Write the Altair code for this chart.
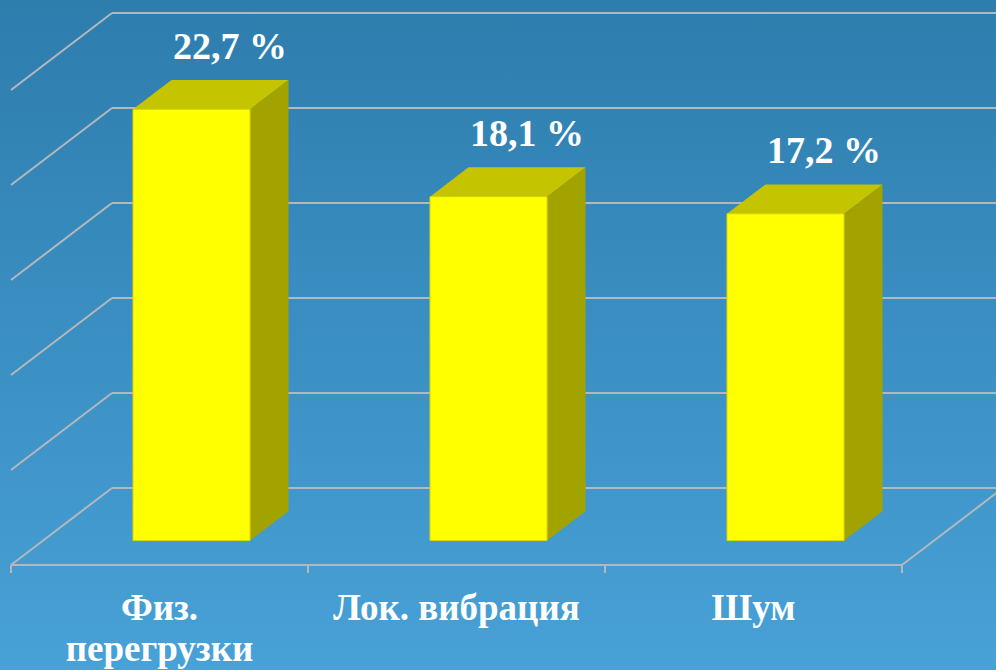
import altair as alt
import pandas as pd

# ---- data ----
categories = ["Физ.\nперегрузки", "Лок. вибрация", "Шум"]
values = [22.7, 18.1, 17.2]
grid_values = [0, 5, 10, 15, 20, 25]

# ---- projection (oblique 3D) ----
W, H = 996, 670
X0_PX, CAT_PX = 11, 297          # floor front-left pixel, px per category
Y0_PX, VAL_PX = 488, 19          # back-wall zero pixel, px per value unit
DEPTH_DX = 101 / CAT_PX          # full depth shift, in category units
DEPTH_DY = 77 / VAL_PX           # full depth shift, in value units
Z_FRONT, Z_BACK = 0.317, 0.698   # bar front / back depth
BAR_W = 0.394                    # bar width, category units
FONT = "Liberation Serif"


def proj(c, v, z):
    return c + DEPTH_DX * z, v - DEPTH_DY * (1 - z)


xs = alt.Scale(domain=[-X0_PX / CAT_PX, (W - X0_PX) / CAT_PX], nice=False, zero=False)
ys = alt.Scale(domain=[(Y0_PX - H) / VAL_PX, Y0_PX / VAL_PX], nice=False, zero=False)


def X(f):
    return alt.X(f, type="quantitative", scale=xs, axis=None)


def Y(f):
    return alt.Y(f, type="quantitative", scale=ys, axis=None, stack=None)


n = len(categories)

# background
bg = alt.Chart(alt.Data(values=[{}])).mark_rect(
    color=alt.LinearGradient(
        gradient="linear", x1=0, x2=0, y1=0, y2=1,
        stops=[alt.GradientStop(offset=0, color="#2d7dad"),
               alt.GradientStop(offset=1, color="#48a1d7")],
    )
).encode(x=alt.value(0), x2=alt.value(W), y=alt.value(0), y2=alt.value(H))

# wall / floor lines
lines = []
for g in grid_values:
    bx0, by = proj(0, g, 1)
    bx1, _ = proj(n + 0.2, g, 1)
    fx, fy = proj(0, g, 0)
    lines.append(dict(x=bx0, y=by, x2=bx1, y2=by))       # back wall gridline
    lines.append(dict(x=fx, y=fy, x2=bx0, y2=by))        # left wall depth line
fx0, fy0 = proj(0, 0, 0)
fx1, _ = proj(n, 0, 0)
rbx, rby = proj(n, 0, 1)
lines.append(dict(x=fx0, y=fy0, x2=fx1, y2=fy0))        # floor front edge
lines.append(dict(x=fx1, y=fy0, x2=rbx, y2=rby))        # floor right edge
tick_len = 8 / VAL_PX
for i in range(n + 1):
    tx, ty = proj(i, 0, 0)
    lines.append(dict(x=tx, y=ty, x2=tx, y2=ty - tick_len))
lines_df = pd.DataFrame(lines)

grid = alt.Chart(lines_df).mark_rule(color="#b4b8bc", strokeWidth=2).encode(
    x=X("x"), x2="x2", y=Y("y"), y2="y2"
)

# bars
front, side, top, lab = [], [], [], []
for i, (cat, v) in enumerate(zip(categories, values)):
    cl = i + 0.5 - BAR_W / 2
    cr = i + 0.5 + BAR_W / 2
    xl_f, yb_f = proj(cl, 0, Z_FRONT)
    xr_f, yt_f = proj(cr, v, Z_FRONT)
    xl_b, yb_b = proj(cl, 0, Z_BACK)
    xr_b, yt_b = proj(cr, v, Z_BACK)
    front.append(dict(x=xl_f, x2=xr_f, y=yb_f, y2=yt_f))
    side.append(dict(bar=i, x=xr_f, y=yt_f, y2=yb_f))
    side.append(dict(bar=i, x=xr_b, y=yt_b, y2=yb_b))
    top.append(dict(bar=i, y=yt_f, x=xl_f, x2=xr_f))
    top.append(dict(bar=i, y=yt_b, x=xl_b, x2=xr_b))
    cx_b, _ = proj(i + 0.5, v, Z_BACK)
    lab.append(dict(x=cx_b, y=yt_b, text=f"{v:.1f}".replace(".", ",") + " %"))

front_c = alt.Chart(pd.DataFrame(front)).mark_rect(
    color="#ffff00", stroke="#d8d800", strokeWidth=1
).encode(x=X("x"), x2="x2", y=Y("y"), y2="y2")

side_c = alt.Chart(pd.DataFrame(side)).mark_area(color="#a3a300").encode(
    x=X("x"), y=Y("y"), y2="y2", detail="bar:N"
)

top_c = alt.Chart(pd.DataFrame(top)).mark_area(color="#c4c400", orient="horizontal").encode(
    y=Y("y"), x=X("x"), x2="x2", detail="bar:N"
)

val_text = alt.Chart(pd.DataFrame(lab)).mark_text(
    font=FONT, fontWeight="bold", fontSize=38, color="white",
    baseline="alphabetic", align="center", dy=-21
).encode(x=X("x"), y=Y("y"), text="text")

cat_rows = []
for i, cat in enumerate(categories):
    cx, cy = proj(i + 0.5, 0, 0)
    cat_rows.append(dict(x=cx, y=cy, text=cat))
cat_text = alt.Chart(pd.DataFrame(cat_rows)).mark_text(
    font=FONT, fontWeight="bold", fontSize=37, color="white",
    baseline="alphabetic", align="center", dy=55, lineBreak="\n", lineHeight=41
).encode(x=X("x"), y=Y("y"), text="text")

chart = alt.layer(bg, grid, side_c, top_c, front_c, val_text, cat_text).properties(
    width=W, height=H, padding=0, autosize="none"
).configure_view(stroke=None)

chart.save("out.html", embed_options={"renderer": "svg", "actions": False})
